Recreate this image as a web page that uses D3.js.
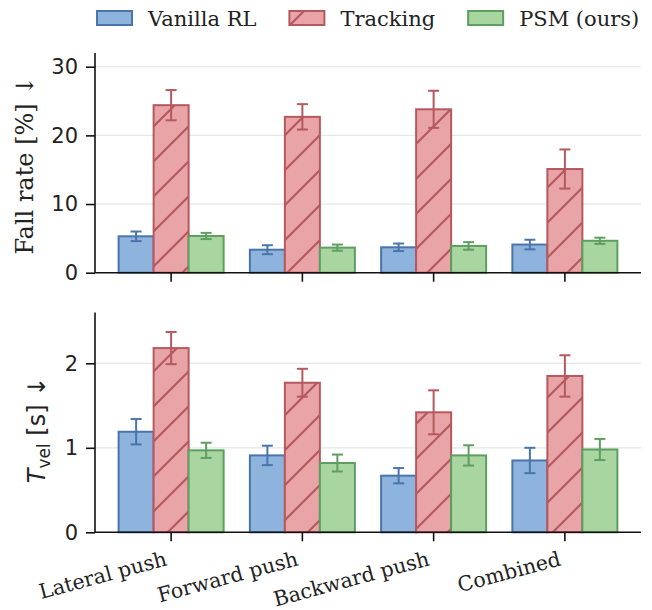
<!DOCTYPE html>
<html>
<head>
<meta charset="utf-8">
<script src="https://cdn.jsdelivr.net/npm/d3@7"></script>
<style>
  body { margin: 0; background: #fff; }
  svg { display: block; }
</style>
</head>
<body>
<div id="chart"></div>
<script>
// data
var categories = ["Lateral push", "Forward push", "Backward push", "Combined"];
var series = ["Vanilla RL", "Tracking", "PSM (ours)"];

var fallMean = {
  "Vanilla RL": [5.3, 3.35, 3.7, 4.1],
  "Tracking": [24.4, 22.7, 23.8, 15.1],
  "PSM (ours)": [5.35, 3.65, 3.9, 4.65]
};
var fallErr = {
  "Vanilla RL": [0.7, 0.65, 0.55, 0.7],
  "Tracking": [2.2, 1.85, 2.7, 2.85],
  "PSM (ours)": [0.45, 0.45, 0.55, 0.45]
};
var tvelMean = {
  "Vanilla RL": [1.19, 0.91, 0.67, 0.85],
  "Tracking": [2.18, 1.77, 1.42, 1.85],
  "PSM (ours)": [0.97, 0.82, 0.91, 0.98]
};
var tvelErr = {
  "Vanilla RL": [0.15, 0.115, 0.09, 0.15],
  "Tracking": [0.19, 0.165, 0.26, 0.245],
  "PSM (ours)": [0.09, 0.1, 0.12, 0.125]
};
var fallTicks = [0, 10, 20, 30];
var tvelTicks = [0, 1, 2];

var fills = ["#8eb3dc", "#e8a4a6", "#a8d5a0"];
var edges = ["#4a75aa", "#b5595e", "#5e9e60"];

var width = 652, height = 610;
var left = 95, right = 641;
var serif = "'DejaVu Serif', serif";
var sans = "'DejaVu Sans', sans-serif";

var svg = d3.select("#chart").append("svg")
  .attr("width", width)
  .attr("height", height);

// hatch pattern in figure coordinates, like matplotlib
var defs = svg.append("defs");
var pat = defs.append("pattern")
  .attr("id", "hatch")
  .attr("patternUnits", "userSpaceOnUse")
  .attr("width", 35)
  .attr("height", 35);
pat.append("rect").attr("width", 35).attr("height", 35).attr("fill", fills[1]);
pat.append("path")
  .attr("d", "M-5,40 L40,-5 M-40,40 L5,-5 M30,40 L75,-5")
  .attr("stroke", edges[1])
  .attr("stroke-width", 2.2);

var x = d3.scaleBand()
  .domain(categories)
  .range([left, right])
  .paddingInner(0)
  .paddingOuter(0.08);
// bars fill 80% of each slot
var xSub = d3.scaleBand()
  .domain(series)
  .range([x.bandwidth() * 0.1, x.bandwidth() * 0.9])
  .padding(0);

function fillFor(i) {
  return i == 1 ? "url(#hatch)" : fills[i];
}

function drawPanel(top, bottom, maxY, ticks, means, errs) {
  var y = d3.scaleLinear().domain([0, maxY]).range([bottom, top]);
  var g = svg.append("g");

  // grid
  g.selectAll(".grid")
    .data(ticks.filter(function(t) { return t > 0; }))
    .enter().append("line")
    .attr("x1", left).attr("x2", right)
    .attr("y1", function(d) { return y(d); })
    .attr("y2", function(d) { return y(d); })
    .attr("stroke", "#e6e6e6")
    .attr("stroke-width", 1.2);

  series.forEach(function(s, i) {
    var rows = categories.map(function(c, j) {
      return { cat: c, v: means[s][j], e: errs[s][j] };
    });
    g.selectAll(".bar" + i)
      .data(rows)
      .enter().append("rect")
      .attr("x", function(d) { return x(d.cat) + xSub(s); })
      .attr("width", xSub.bandwidth())
      .attr("y", function(d) { return y(d.v); })
      .attr("height", function(d) { return y(0) - y(d.v); })
      .attr("fill", fillFor(i))
      .attr("stroke", edges[i])
      .attr("stroke-width", 2);

    var cx = function(d) { return x(d.cat) + xSub(s) + xSub.bandwidth() / 2; };
    var eb = g.selectAll(".err" + i)
      .data(rows)
      .enter().append("g")
      .attr("stroke", edges[i])
      .attr("stroke-width", 2);
    eb.append("line")
      .attr("x1", cx)
      .attr("x2", cx)
      .attr("y1", function(d) { return y(d.v - d.e); })
      .attr("y2", function(d) { return y(d.v + d.e); });
    [-1, 1].forEach(function(sign) {
      eb.append("line")
        .attr("x1", function(d) { return cx(d) - 5.5; })
        .attr("x2", function(d) { return cx(d) + 5.5; })
        .attr("y1", function(d) { return y(d.v + sign * d.e); })
        .attr("y2", function(d) { return y(d.v + sign * d.e); });
    });
  });

  // y axis
  var yAxis = g.append("g")
    .attr("transform", "translate(" + left + ",0)")
    .call(d3.axisLeft(y).tickValues(ticks).tickSize(9).tickPadding(8).tickFormat(d3.format("d")));
  yAxis.select(".domain").attr("stroke", "#111").attr("stroke-width", 1.6)
    .attr("d", "M0," + y(maxY) + "V" + y(0));
  yAxis.selectAll(".tick line").attr("stroke", "#111").attr("stroke-width", 1.6);
  yAxis.selectAll("text")
    .attr("font-family", sans)
    .attr("font-size", 21)
    .attr("fill", "#222");

  // x axis
  var xAxis = g.append("g")
    .attr("transform", "translate(0," + y(0) + ")")
    .call(d3.axisBottom(x).tickSize(9).tickFormat(""));
  xAxis.select(".domain").attr("stroke", "#111").attr("stroke-width", 1.6)
    .attr("d", "M" + left + ",0H" + right);
  xAxis.selectAll(".tick line").attr("stroke", "#111").attr("stroke-width", 1.6);
  return y;
}

drawPanel(53, 272.7, 32, fallTicks, fallMean, fallErr);
drawPanel(312.6, 532.3, 2.6, tvelTicks, tvelMean, tvelErr);

// rotated category labels under the lower panel
svg.append("g").selectAll("text")
  .data(categories)
  .enter().append("text")
  .attr("transform", function(d) {
    return "translate(" + (x(d) + x.bandwidth() / 2 - 3) + ",565) rotate(-15)";
  })
  .attr("text-anchor", "end")
  .attr("font-family", serif)
  .attr("font-size", 20.5)
  .attr("fill", "#222")
  .text(function(d) { return d; });

// y labels
svg.append("text")
  .attr("transform", "translate(33,165) rotate(-90)")
  .attr("text-anchor", "middle")
  .attr("font-family", serif)
  .attr("font-size", 24)
  .attr("fill", "#222")
  .text("Fall rate [%]  \u2193");

var tl = svg.append("text")
  .attr("transform", "translate(45,430) rotate(-90)")
  .attr("text-anchor", "middle")
  .attr("font-family", sans)
  .attr("font-size", 24)
  .attr("fill", "#222");
tl.append("tspan").attr("font-style", "italic").text("T");
tl.append("tspan").attr("font-size", 17).attr("dy", 5).text("vel");
tl.append("tspan").attr("dy", -5).text(" [s]  \u2193");

// legend
var lx = 97;
series.forEach(function(s, i) {
  svg.append("rect")
    .attr("x", lx).attr("y", 11)
    .attr("width", 35).attr("height", 14)
    .attr("fill", fillFor(i))
    .attr("stroke", edges[i])
    .attr("stroke-width", 2);
  var t = svg.append("text")
    .attr("x", lx + 51).attr("y", 26)
    .attr("font-family", serif)
    .attr("font-size", 21)
    .attr("fill", "#222")
    .text(s);
  lx = lx + 51 + t.node().getComputedTextLength() + 33;
});
</script>
</body>
</html>
